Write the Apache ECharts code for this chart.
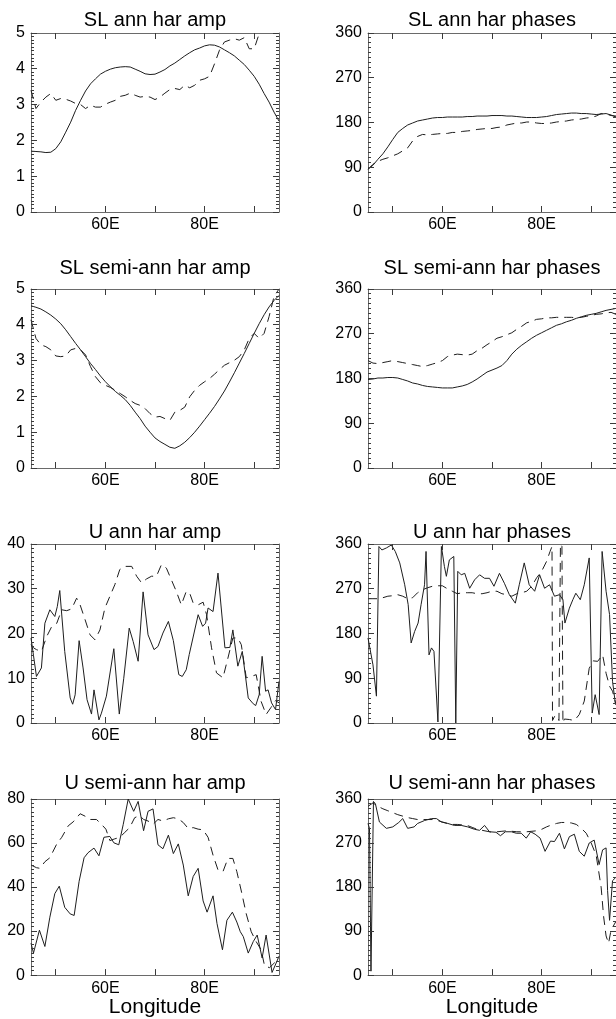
<!DOCTYPE html>
<html><head><meta charset="utf-8">
<script src="https://cdn.jsdelivr.net/npm/echarts@6/dist/echarts.min.js"></script>
<style>html,body{margin:0;padding:0;background:#fff}#c{width:616px;height:1019px}</style>
</head><body><div id="c"></div>
<script>
// ---------- data ----------
const lonGrid = [45,46,47,48,49,50,51,52,53,54,55,56,57,58,59,60,61,62,63,64,65,66,67,68,69,70,71,72,73,74,75,76,77,78,79,80,81,82,83,84,85,86,87,88,89,90,91,92,93,94,95];
const xTickValues = [50,60,70,80,90];
const xLabelValues = [60,80];

// SL annual harmonic amplitude
const slAnnAmpSolid = [1.70,1.69,1.68,1.66,1.67,1.77,1.96,2.23,2.51,2.84,3.12,3.38,3.58,3.72,3.85,3.93,3.99,4.03,4.05,4.06,4.05,3.99,3.93,3.86,3.84,3.85,3.91,3.98,4.08,4.16,4.26,4.36,4.45,4.53,4.58,4.64,4.67,4.66,4.61,4.53,4.45,4.36,4.24,4.12,3.96,3.79,3.57,3.31,3.07,2.79,2.54];
const slAnnAmpDash  = [3.40,2.89,3.07,3.21,3.31,3.12,3.17,3.15,3.10,3.03,3.00,2.89,2.98,2.93,2.93,3.01,3.07,3.12,3.23,3.26,3.32,3.26,3.21,3.23,3.21,3.14,3.21,3.32,3.42,3.45,3.42,3.54,3.47,3.54,3.68,3.72,3.79,4.14,4.52,4.75,4.80,4.84,4.80,4.87,4.56,4.56,4.98,5.20,5.30,5.30,5.30];
// SL annual harmonic phases
const slAnnPhSolid = [86,94,106,117,131,146,160,168,175,179,183,185,187,189,190,190,191,191,191,191,192,192,193,193,193,194,194,194,193,193,192,191,190,190,190,191,192,194,196,197,198,199,199,198,198,197,196,197,198,195,191];
const slAnnPhDash  = [86,96,102,106,109,113,117,123,129,143,152,156,155,156,157,158,158,160,160,162,163,164,166,167,168,168,170,171,175,177,179,179,181,181,179,178,178,179,181,182,183,185,186,187,189,190,193,198,197,194,193];
// SL semi-annual harmonic amplitude
const slSemiAmpSolid = [4.53,4.49,4.44,4.36,4.27,4.16,4.03,3.86,3.67,3.48,3.30,3.11,2.92,2.75,2.57,2.41,2.27,2.14,2.03,1.91,1.75,1.56,1.38,1.17,1.00,0.84,0.74,0.66,0.58,0.55,0.62,0.72,0.85,1.00,1.17,1.35,1.53,1.72,1.93,2.15,2.40,2.66,2.93,3.20,3.48,3.76,4.03,4.28,4.50,4.68,4.82];
const slSemiAmpDash  = [4.14,3.62,3.44,3.39,3.30,3.13,3.11,3.13,3.30,3.34,3.30,3.16,2.83,2.55,2.38,2.31,2.25,2.17,2.08,1.99,1.89,1.80,1.75,1.66,1.52,1.42,1.44,1.38,1.33,1.56,1.61,1.70,1.99,2.17,2.31,2.41,2.50,2.62,2.75,2.87,2.94,3.01,3.11,3.30,3.62,3.76,3.62,3.76,4.23,4.79,5.00];
// SL semi-annual harmonic phases
const slSemiPhSolid = [178,179,181,181,182,182,181,178,175,171,169,166,164,163,162,161,161,161,163,165,168,173,179,186,193,197,201,206,216,229,239,247,254,261,267,272,277,282,287,290,294,297,301,304,307,309,311,314,317,319,321];
const slSemiPhDash  = [216,211,210,212,214,216,214,212,210,208,206,204,206,209,212,216,224,227,229,228,227,229,236,241,248,254,261,264,268,272,279,285,292,295,299,300,302,302,303,303,303,303,302,303,305,307,309,310,312,313,309];

// U annual harmonic amplitude
const uAnnAmpSolidLon = [45,46.1,47.1,47.8,48.8,49.8,50.3,50.8,51.8,52.9,53.4,53.9,54.7,55.5,56.3,57.2,57.7,58.7,59.2,60.2,61.7,62.8,63.7,64.8,65.6,66.6,67.6,68.6,69.8,70.6,71.6,72.7,73.7,74.8,75.5,76.3,76.9,77.3,78.7,79.6,80.2,80.7,81.7,82.7,84.1,85.1,85.7,86.7,87.6,88.8,89.8,90.3,91.0,91.6,92.3,92.8,93.5,94.3,95];
const uAnnAmpSolid    = [19.0,10.4,12.3,22.3,25.3,23.8,26.0,29.6,16.0,5.6,4.2,6.3,18.4,12.3,5.2,2.0,7.4,0.7,2.2,6.0,16.6,2.0,10.0,21.2,18.2,13.8,29.3,19.7,16.4,17.1,20.1,22.7,18.4,10.8,10.4,11.9,15.3,14.9,24.2,21.6,22.3,25.7,24.9,33.5,16.8,16.9,20.8,12.7,16.0,5.6,4.3,3.9,6.3,14.9,7.1,7.4,4.5,3.0,9.3];
const uAnnAmpDashLon  = [45,45.5,46.1,47.1,48.2,49.2,50.2,51.2,52.2,53.2,54.2,54.9,55.9,56.9,57.9,58.9,59.9,60.9,61.9,62.9,63.9,65.3,66.3,67.3,68.3,69.3,70.3,71.3,72.3,73.3,74.3,75.3,76.3,77.0,77.7,78.7,79.7,80.4,81.4,82.4,83.7,84.7,85.7,86.7,87.4,88.4,89.4,90.4,91.4,92.4,93.4,94.3,95];
const uAnnAmpDash     = [17.5,16.8,16.4,16.0,19.4,21.6,22.3,25.3,25.1,25.5,27.9,26.4,23.1,19.7,18.6,20.8,25.7,28.3,30.9,34.3,35.0,35.0,32.8,31.3,32.2,32.8,32.8,35.4,34.6,32.0,29.4,26.4,29.4,29.0,26.8,26.4,27.0,24.2,16.8,11.2,10.1,14.5,19.0,19.0,17.5,10.1,10.4,10.8,4.8,1.9,3.5,5.0,4.5];
// U annual harmonic phases
const uAnnPhSolidLon = [45,46,46.7,47.2,47.8,48.7,49.7,50.5,51.4,52.4,53.1,53.7,54.4,55.1,55.7,56.4,56.7,57.3,57.8,58.3,59.1,59.8,60.4,60.8,61.4,62.3,62.7,63.1,63.8,64.5,65.5,66.5,67.5,68.5,69.5,70.4,71.5,72.5,73.5,74.7,75.5,76.5,77.5,78.6,79.6,80.6,81.6,82.6,83.6,84.3,84.7,85.6,86.3,86.9,87.8,88.6,89.6,90.2,90.8,91.6,92.2,93.0,93.7,94.3,94.9];
const uAnnPhSolid    = [171,117,54,355,348,352,358,345,322,278,238,161,184,201,238,278,345,137,151,144,2,355,315,295,328,335,0,305,298,301,271,288,298,291,291,275,301,281,258,241,278,322,278,265,298,271,278,255,258,248,201,231,248,261,248,278,332,20,57,17,345,265,218,84,37];
const uAnnPhDashLon  = [45,46,47,48,49,50,51,52,53,54,55,56,57,58,59,60,61,62,63,64,65,66,67,68,69,70,71,72,73,74,75,76,77,78,79,80,81,81.7,82.1,82.2,82.6,83.1,83.5,83.7,83.8,84.1,84.3,84.6,85.6,86.6,87.6,88.6,89.6,90.4,91.3,92.3,93.0,93.7,94.3,95];
const uAnnPhDash     = [250,250,250,252,255,256,258,255,250,252,262,268,272,275,276,276,270,265,260,262,262,262,260,260,262,265,265,260,258,255,260,262,265,275,292,305,325,345,355,5,13,15,5,2,360,355,0,8,7,5,17,44,110,125,124,137,100,74,64,37];
// U semi-annual harmonic amplitude
const uSemiAmpSolidLon = [45,45.5,46.7,47.8,48.8,49.8,50.7,51.8,52.9,53.7,54.7,55.7,56.5,57.7,58.7,59.7,60.9,61.7,62.7,63.6,64.6,65.7,66.6,67.7,68.6,69.6,70.6,71.6,72.7,73.7,74.7,75.7,76.7,77.7,78.7,79.7,80.5,81.7,82.5,83.6,84.5,85.6,86.5,87.2,87.8,88.8,89.8,90.6,91.6,92.4,93.6,94.6,95];
const uSemiAmpSolid    = [14.5,10.0,20.4,13.0,26.3,37.0,40.4,30.8,27.8,27.1,42.6,53.3,55.6,57.7,54.2,62.6,63.0,60.1,59.2,68.5,80.0,74.4,78.9,65.6,74.4,75.5,59.2,57.4,63.6,55.2,59.6,50.0,36.0,44.8,48.5,33.7,28.6,36.0,23.4,11.5,24.9,28.6,24.1,19.7,17.5,10.0,15.2,18.2,7.8,18.2,1.2,6.4,8.6];
const uSemiAmpDashLon  = [45,46.1,46.8,47.8,48.8,50.2,51.2,52.5,53.5,54.9,55.9,56.9,58.2,59.2,60.1,60.9,61.9,62.9,63.9,64.9,65.9,66.9,67.7,68.6,69.6,70.6,71.6,72.7,73.7,74.7,75.7,76.7,77.7,78.7,79.7,80.7,81.7,82.7,83.7,84.7,85.7,86.5,87.4,88.4,89.4,90.4,91.4,92.1,93.1,94.1,95];
const uSemiAmpDash     = [50.0,48.8,48.5,51.5,53.3,59.6,62.6,67.8,69.6,73.3,72.2,70.7,70.7,68.5,66.3,61.1,61.9,62.6,64.8,67.0,71.5,72.5,70.7,70.0,68.5,70.7,70.0,71.0,71.5,71.0,69.3,66.6,67.0,66.3,66.0,62.6,54.5,47.8,47.0,53.0,53.0,47.0,38.2,27.8,19.7,15.2,11.5,4.1,3.4,5.6,7.1];
// U semi-annual harmonic phases
const uSemiPhSolidLon = [45,45.3,45.6,46.1,46.5,47.3,48.7,50.0,51.2,52.0,53.0,54.3,55.0,56.4,57.8,58.8,59.8,61.1,62.4,63.8,65.1,66.5,67.5,68.5,69.5,70.8,71.7,72.7,73.9,74.9,75.9,76.9,77.8,78.7,79.7,80.7,81.8,82.6,83.6,84.6,85.6,86.6,87.6,88.6,89.6,90.6,91.6,92.3,93.0,93.3,93.7,94.3,94.9];
const uSemiPhSolid    = [310,300,8,355,350,313,300,303,312,320,300,303,310,316,320,320,313,310,306,306,303,298,296,306,293,292,285,293,293,290,290,280,293,288,280,253,274,273,290,258,283,288,253,243,270,276,226,256,260,173,112,193,199];
const uSemiPhDashLon  = [45,46,47,48,49,50,51,52,53,54,55,56,57,58,59,60,61,62,63,64,65,66,67,68,69,70,71,72,73,74,75,76,77,78,79,80,81,82,83,84,85,86,87,88,89,90,91,92,92.5,93,93.5,94,95];
const uSemiPhDash     = [345,352,345,340,336,332,328,325,322,320,318,318,318,318,316,313,310,308,308,307,306,302,298,296,294,292,293,294,295,294,293,293,293,294,295,298,303,307,310,312,312,311,308,300,290,270,245,180,120,80,65,92,110];

const panelTitles = ['SL ann har amp','SL ann har phases','SL semi-ann har amp','SL semi-ann har phases','U ann har amp','U ann har phases','U semi-ann har amp','U semi-ann har phases'];
const yMaxes      = [5,360,5,360,40,360,80,360];
const yIntervals  = [1,90,1,90,10,90,20,90];
const yMinorSplit = [10,9,10,9,10,9,10,9];
const xAxisTitle  = 'Longitude';

// ---------- build ----------
const FONT = "'Liberation Sans', Arial, Helvetica, sans-serif";
const INK = '#1e1e1e';
const FRAME = '#6a6a6a';
const TICK = '#3a3a3a';
const X_MIN = 45, X_MAX = 95;
const pairs = (xs, ys) => xs.map((x, i) => [x, ys[i]]);
const seriesData = [
  [pairs(lonGrid, slAnnAmpSolid),  pairs(lonGrid, slAnnAmpDash)],
  [pairs(lonGrid, slAnnPhSolid),   pairs(lonGrid, slAnnPhDash)],
  [pairs(lonGrid, slSemiAmpSolid), pairs(lonGrid, slSemiAmpDash)],
  [pairs(lonGrid, slSemiPhSolid),  pairs(lonGrid, slSemiPhDash)],
  [pairs(uAnnAmpSolidLon, uAnnAmpSolid),   pairs(uAnnAmpDashLon, uAnnAmpDash)],
  [pairs(uAnnPhSolidLon, uAnnPhSolid),     pairs(uAnnPhDashLon, uAnnPhDash)],
  [pairs(uSemiAmpSolidLon, uSemiAmpSolid), pairs(uSemiAmpDashLon, uSemiAmpDash)],
  [pairs(uSemiPhSolidLon, uSemiPhSolid),   pairs(uSemiPhDashLon, uSemiPhDash)]
];

const colLeft = [31, 368];
const rowTop = [33, 289, 544, 799];
const titleTop = [10, 258.5, 522, 773];
const PW = 248, PH = 179;
const MAJOR_LEN = 6, MINOR_LEN = 3;

// frame tick marks: anchors in value space + side/length meta kept alongside
function tickSpec(i) {
  const anchors = [], meta = [];
  const yTop = yMaxes[i];
  const add = (x, y, side, len) => { anchors.push([x, y]); meta.push({side, len}); };
  xTickValues.forEach(v => { add(v, 0, 0, MAJOR_LEN); add(v, yTop, 1, MAJOR_LEN); });
  const step = yIntervals[i], nMinor = yMinorSplit[i];
  for (let k = 0; k * step <= yTop + 1e-9; k++) {
    const v = k * step;
    add(X_MIN, v, 2, MAJOR_LEN); add(X_MAX, v, 3, MAJOR_LEN);
    if (v < yTop) {
      for (let m = 1; m < nMinor; m++) {
        const mv = v + step * m / nMinor;
        add(X_MIN, mv, 2, MINOR_LEN); add(X_MAX, mv, 3, MINOR_LEN);
      }
    }
  }
  return {anchors, meta};
}
const crisp = v => Math.round(v - 0.5) + 0.5;

const grids = [], xAxes = [], yAxes = [], series = [], titles = [];
for (let i = 0; i < 8; i++) {
  const r = Math.floor(i / 2), c = i % 2;
  const left = colLeft[c], top = rowTop[r];
  grids.push({left, top, width: PW, height: PH, containLabel: false});
  titles.push({
    text: panelTitles[i], left: left + PW / 2, top: titleTop[r], textAlign: 'center', padding: 0,
    textStyle: {fontSize: 20, fontWeight: 'normal', fontFamily: FONT, color: '#000'}
  });
  const xb = {
    gridIndex: i, type: 'value', min: X_MIN, max: X_MAX, position: 'bottom',
    axisLine: {show: true, onZero: false, lineStyle: {color: FRAME, width: 1}},
    axisTick: {show: false},
    axisLabel: {show: true, customValues: xLabelValues, formatter: v => v + 'E', margin: 5,
                fontSize: 16, fontFamily: FONT, color: '#000'},
    splitLine: {show: false}
  };
  if (r === 3) {
    xb.name = xAxisTitle; xb.nameLocation = 'middle'; xb.nameGap = 16;
    xb.nameTextStyle = {fontSize: 21, fontFamily: FONT, color: '#000', verticalAlign: 'top'};
  }
  xAxes.push(xb);
  xAxes.push({
    gridIndex: i, type: 'value', min: X_MIN, max: X_MAX, position: 'top',
    axisLine: {show: true, onZero: false, lineStyle: {color: FRAME, width: 1}},
    axisTick: {show: false}, axisLabel: {show: false}, splitLine: {show: false}
  });
  const mk = (pos, labelShow) => ({
    gridIndex: i, type: 'value', min: 0, max: yMaxes[i], interval: yIntervals[i], position: pos,
    axisLine: {show: true, onZero: false, lineStyle: {color: FRAME, width: 1}},
    axisTick: {show: false}, minorTick: {show: false},
    axisLabel: labelShow ? {show: true, margin: 6, fontSize: 16, fontFamily: FONT, color: '#000'} : {show: false},
    splitLine: {show: false}
  });
  yAxes.push(mk('left', true));
  yAxes.push(mk('right', false));

  series.push({
    type: 'line', xAxisIndex: 2 * i, yAxisIndex: 2 * i, data: seriesData[i][0],
    showSymbol: false, symbol: 'none', clip: true,
    lineStyle: {color: INK, width: 1, type: 'solid'}
  });
  series.push({
    type: 'line', xAxisIndex: 2 * i, yAxisIndex: 2 * i, data: seriesData[i][1],
    showSymbol: false, symbol: 'none', clip: true,
    lineStyle: {color: INK, width: 1, type: [9, 6]}
  });
  const spec = tickSpec(i);
  series.push({
    type: 'custom', xAxisIndex: 2 * i, yAxisIndex: 2 * i, z: 4,
    data: spec.anchors,
    renderItem: (params, api) => {
      const p = api.coord([api.value(0), api.value(1)]);
      const m = spec.meta[params.dataIndex];
      let shape;
      if (m.side === 0)      shape = {x1: crisp(p[0]), y1: p[1], x2: crisp(p[0]), y2: p[1] - m.len};
      else if (m.side === 1) shape = {x1: crisp(p[0]), y1: p[1], x2: crisp(p[0]), y2: p[1] + m.len};
      else if (m.side === 2) shape = {x1: p[0], y1: crisp(p[1]), x2: p[0] + m.len, y2: crisp(p[1])};
      else                   shape = {x1: p[0], y1: crisp(p[1]), x2: p[0] - m.len, y2: crisp(p[1])};
      return {type: 'line', shape, style: {stroke: TICK, lineWidth: 1}};
    }
  });
}

const chart = echarts.init(document.getElementById('c'), null, {renderer: 'canvas'});
chart.setOption({
  animation: false, backgroundColor: '#fff', tooltip: {show: false},
  title: titles, grid: grids, xAxis: xAxes, yAxis: yAxes, series
});
</script></body></html>
